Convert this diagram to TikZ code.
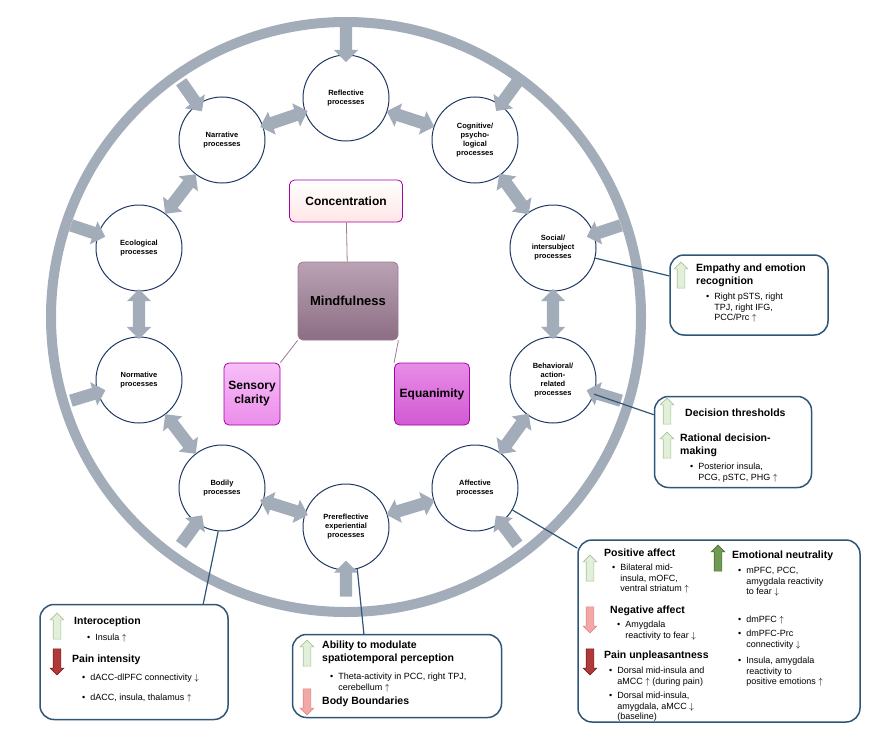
\documentclass[tikz,border=0pt]{standalone}
\usepackage{fontspec}
\setmainfont{Liberation Sans}
\usepackage{tikz}
\usetikzlibrary{shapes.arrows,calc}
\definecolor{ringgray}{HTML}{A3ACB9}
\definecolor{circblue}{HTML}{1F3864}
\definecolor{boxblue}{HTML}{2F5577}
\definecolor{lightup}{HTML}{E2F0D9}
\definecolor{lightupd}{HTML}{A9C49A}
\definecolor{pinkdn}{HTML}{F4A7A7}
\definecolor{pinkdnd}{HTML}{E08C8C}
\definecolor{reddn}{HTML}{B03A3A}
\definecolor{reddnd}{HTML}{7F2020}
\definecolor{greenup}{HTML}{6E9A52}
\definecolor{greenupd}{HTML}{4E7038}
\definecolor{mauve}{HTML}{9C7A93}
\newcommand{\bitem}[1]{\begin{tabular}[t]{@{}l@{\hspace{5pt}}l@{}}\textbullet & \begin{tabular}[t]{@{}l@{}}#1\end{tabular}\end{tabular}}
\tikzset{>=latex}

\begin{document}
\begin{tikzpicture}[x=1pt,y=-1pt]
                        % px = pt, y grows downwards
                        \tikzstyle{proc}=[circle, draw=circblue, line width=1pt, fill=white, minimum size=86pt, inner sep=0pt, align=center, font=\fontsize{7.5}{9}\selectfont\bfseries]
                        \tikzstyle{dbl}=[double arrow, fill=ringgray, minimum height=50pt, inner sep=6pt, double arrow head extend=6pt]
                        \tikzstyle{inarr}=[single arrow, fill=ringgray, minimum height=36pt, inner sep=6pt, single arrow head extend=6pt]
                        \tikzstyle{infobox}=[draw=boxblue, line width=1.5pt, rounded corners=14pt, fill=white]
                        \tikzstyle{lnk}=[draw=boxblue, line width=1.2pt]
                        \tikzstyle{icon}=[single arrow, minimum height=26pt, inner sep=3.5pt, single arrow head extend=3pt, line width=0.6pt]
                        \tikzstyle{upl}=[icon, rotate=90, fill=lightup, draw=lightupd]
                        \tikzstyle{dnp}=[icon, rotate=-90, fill=pinkdn, draw=pinkdnd]
                        \tikzstyle{dnr}=[icon, rotate=-90, fill=reddn, draw=reddnd]
                        \tikzstyle{upg}=[icon, rotate=90, fill=greenup, draw=greenupd]
                        \tikzstyle{hd}=[anchor=north west, inner sep=0pt, align=left, font=\fontsize{10.5}{12.5}\selectfont\bfseries]
                        \tikzstyle{bl}=[anchor=north west, inner sep=0pt, font=\fontsize{9}{10.5}\selectfont]
                        \tikzstyle{core}=[rounded corners=5pt, draw=mauve, line width=0.8pt, align=center, inner sep=0pt, font=\fontsize{12}{14}\selectfont\bfseries]

                        \useasboundingbox (0,0) rectangle (885,741);
                        \coordinate (c) at (346,317);
                        \draw[ringgray, line width=10pt] (c) circle (295);

                        % process circles
                        \node[proc] (refl) at (346,98) {Reflective\\processes};
                        \node[proc] (cogn) at (475,140) {Cognitive/\\psycho-\\logical\\processes};
                        \node[proc] (soci) at (553,248) {Social/\\intersubject\\processes};
                        \node[proc] (beha) at (553,380) {Behavioral/\\action-\\related\\processes};
                        \node[proc] (affe) at (475,488) {Affective\\processes};
                        \node[proc] (prer) at (346,527) {Prereflective\\experiential\\processes};
                        \node[proc] (bodi) at (222,488) {Bodily\\processes};
                        \node[proc] (norm) at (139,380) {Normative\\processes};
                        \node[proc] (ecol) at (139,248) {Ecological\\processes};
                        \node[proc] (narr) at (222,140) {Narrative\\processes};

                        \foreach \nd in {refl,cogn,soci,beha,affe,prer,bodi,norm,ecol,narr}
                                \path let \p1=($(\nd)-(c)$), \n1={atan2(\y1,\x1)} in
                                        node[inarr, rotate=\n1+180] (in-\nd) at ($(c)!1.26!(\nd)$) {};

                        \foreach \a/\b in {refl/cogn,cogn/soci,soci/beha,beha/affe,affe/prer,prer/bodi,bodi/norm,norm/ecol,ecol/narr,narr/refl}
                                \path let \p1=($(\b)-(\a)$), \n1={atan2(\y1,\x1)} in
                                        node[dbl, rotate=\n1] (da-\a) at ($(\a)!0.5!(\b)$) {};

                        % core
                        \node[core, top color=white, bottom color=pink!40, draw=violet!70!magenta, minimum width=113pt, minimum height=42pt] (conc) at (346,201) {Concentration};
                        \node[core, top color=mauve!70, bottom color=mauve!90!black, minimum width=100pt, minimum height=78pt, font=\fontsize{13}{15}\selectfont\bfseries] (mind) at (348,301) {Mindfulness};
                        \node[core, top color=violet!25!magenta!25, bottom color=violet!35!magenta!45, draw=violet!70!magenta, minimum width=56pt, minimum height=62pt] (sens) at (252,394) {Sensory\\clarity};
                        \node[core, top color=violet!40!magenta!45, bottom color=violet!55!magenta!65, draw=violet!70!magenta, minimum width=75pt, minimum height=62pt] (equa) at (432,394) {Equanimity};
                        \draw[mauve, line width=0.8pt] (mind) -- (conc);
                        \draw[mauve, line width=0.8pt] (mind.south west) -- (sens.north east);
                        \draw[mauve, line width=0.8pt] (mind.south east) -- (equa.north west);

                        % info boxes
                        \node[infobox, minimum width=158pt, minimum height=80pt] (emp) at (749,295) {};
                        \node[infobox, minimum width=157pt, minimum height=91pt] (dec) at (733,442) {};
                        \node[infobox, minimum width=282pt, minimum height=182pt] (aff) at (719,631) {};
                        \node[infobox, minimum width=188pt, minimum height=115pt] (bod) at (134,662) {};
                        \node[infobox, minimum width=209pt, minimum height=83pt] (pre) at (397,676) {};

                        \draw[lnk] (soci) -- (emp);
                        \draw[lnk] (beha) -- (dec);
                        \draw[lnk] (affe) -- (aff);
                        \coordinate (bodend) at (203,605);
                        \draw[lnk] (bodi.265) -- (bodend);
                        \coordinate (preend) at (364,635);
                        \draw[lnk] (prer.-75) -- (preend);

                        % empathy
                        \node[upl] (e1) at (681,277) {};
                        \node[hd] (e1h) at (696,264) {Empathy and emotion\\recognition};
                        \node[bl] (e1b) at (706,292) {\bitem{Right pSTS, right\\TPJ, right IFG,\\PCC/Prc $\uparrow$}};

                        % decision
                        \node[upl] (d1) at (667,413) {};
                        \node[hd, anchor=west] (d1h) at (685,413) {Decision thresholds};
                        \node[upl] (d2) at (667,447) {};
                        \node[hd] (d2h) at (680,434) {Rational decision-\\making};
                        \node[bl] (d2b) at (690,462) {\bitem{Posterior insula,\\PCG, pSTC, PHG $\uparrow$}};

                        % affective
                        \node[upl] (a1) at (590,570) {};
                        \node[hd] (a1h) at (604,549) {Positive affect};
                        \node[bl] (a1b) at (612,563) {\bitem{Bilateral mid-\\insula, mOFC,\\ventral striatum $\uparrow$}};
                        \node[dnp] (a2) at (590,618) {};
                        \node[hd] (a2h) at (610,606) {Negative affect};
                        \node[bl] (a2b) at (617,620) {\bitem{Amygdala\\reactivity to fear $\downarrow$}};
                        \node[dnr] (a3) at (590,660) {};
                        \node[hd] (a3h) at (604,651) {Pain unpleasantness};
                        \node[bl] (a3b) at (609,666) {\bitem{Dorsal mid-insula and\\aMCC $\uparrow$ (during pain)}};
                        \node[bl] (a3c) at (609,691) {\bitem{Dorsal mid-insula,\\amygdala, aMCC $\downarrow$\\(baseline)}};
                        \node[upg] (a4) at (718,560) {};
                        \node[hd] (a4h) at (732,551) {Emotional neutrality};
                        \node[bl] (a4b) at (738,566) {\bitem{mPFC, PCC,\\amygdala reactivity\\to fear $\downarrow$}};
                        \node[bl] (a4c) at (738,615) {\bitem{dmPFC $\uparrow$}};
                        \node[bl] (a4d) at (738,629) {\bitem{dmPFC-Prc\\connectivity $\downarrow$}};
                        \node[bl] (a4e) at (738,656) {\bitem{Insula, amygdala\\reactivity to\\positive emotions $\uparrow$}};

                        % bodily
                        \node[upl] (b1) at (57,628) {};
                        \node[hd, anchor=west] (b1h) at (74,622) {Interoception};
                        \node[bl] (b1b) at (87,633) {\bitem{Insula $\uparrow$}};
                        \node[dnr] (b2) at (57,660) {};
                        \node[hd, anchor=west] (b2h) at (72,660) {Pain intensity};
                        \node[bl] (b2b) at (82,673) {\bitem{dACC-dlPFC connectivity $\downarrow$}};
                        \node[bl] (b2c) at (82,693) {\bitem{dACC, insula, thalamus $\uparrow$}};

                        % prereflective
                        \node[upl] (p1) at (307,655) {};
                        \node[hd] (p1h) at (322,641) {Ability to modulate\\spatiotemporal perception};
                        \node[bl] (p1b) at (330,672) {\bitem{Theta-activity in PCC, right TPJ,\\cerebellum $\uparrow$}};
                        \node[dnp] (p2) at (307,700) {};
                        \node[hd, anchor=west] (p2h) at (322,702) {Body Boundaries};
\end{tikzpicture}
\end{document}
